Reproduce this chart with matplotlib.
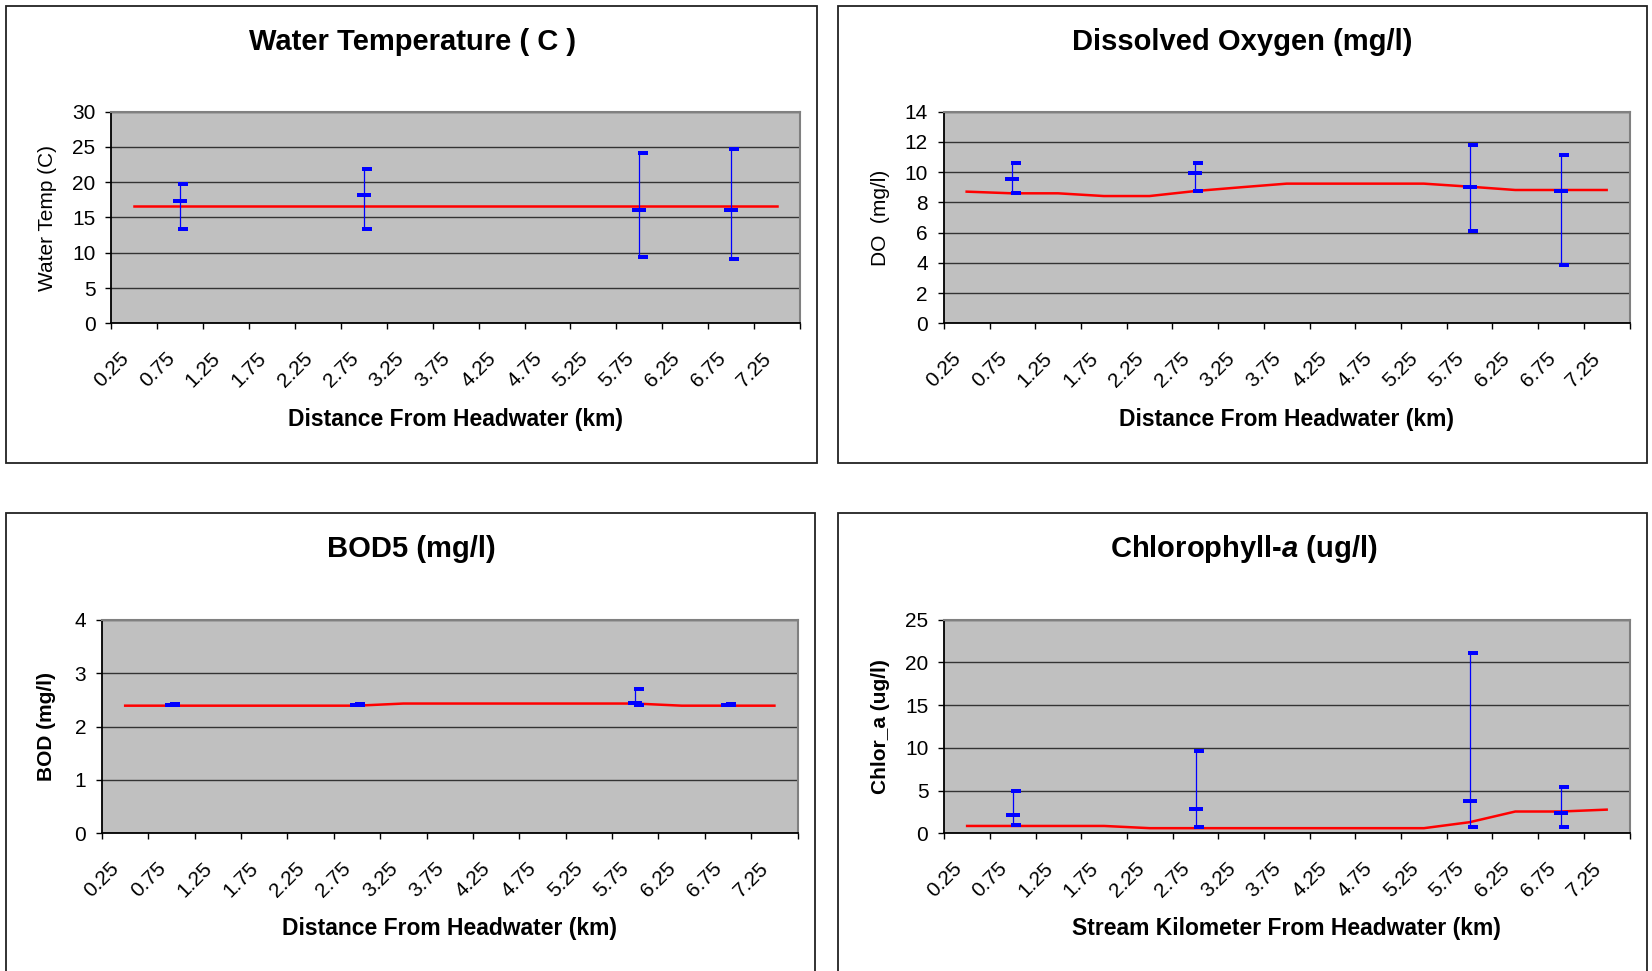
import matplotlib
matplotlib.use("Agg")
import matplotlib.pyplot as plt
import matplotlib.transforms as mtransforms
from matplotlib.patches import Rectangle

plt.rcParams['font.family'] = 'Liberation Sans'
plt.rcParams['mathtext.fontset'] = 'custom'
plt.rcParams['mathtext.it'] = 'Liberation Sans:italic:bold'
plt.rcParams['mathtext.rm'] = 'Liberation Sans:bold'

# model output along the stream (km from headwater)
model_km = [0.5, 1.0, 1.5, 2.0, 2.5, 3.0, 3.5, 4.0, 4.5, 5.0, 5.5, 6.0, 6.5, 7.0, 7.5]
temp_model = [16.7, 16.7, 16.7, 16.7, 16.7, 16.7, 16.7, 16.7, 16.7, 16.7, 16.7, 16.7, 16.7, 16.7, 16.7]
do_model = [8.71, 8.6, 8.6, 8.42, 8.42, 8.75, 9.0, 9.24, 9.24, 9.24, 9.24, 9.04, 8.82, 8.82, 8.82]
bod_model = [2.39, 2.39, 2.39, 2.39, 2.39, 2.39, 2.43, 2.43, 2.43, 2.43, 2.43, 2.43, 2.39, 2.39, 2.39]
chl_model = [0.86, 0.86, 0.86, 0.86, 0.6, 0.6, 0.6, 0.6, 0.6, 0.6, 0.6, 1.3, 2.55, 2.55, 2.77]

# observed stations: mean / min / max
obs_km = [1.0, 3.0, 6.0, 7.0]
temp_mean = [17.4, 18.2, 16.0, 16.0]
temp_min = [13.4, 13.4, 9.4, 9.1]
temp_max = [19.7, 21.9, 24.2, 24.7]
do_mean = [9.57, 9.96, 9.04, 8.77]
do_min = [8.64, 8.77, 6.13, 3.88]
do_max = [10.63, 10.63, 11.82, 11.16]
bod_mean = [2.41, 2.41, 2.44, 2.41]
bod_min = [2.41, 2.41, 2.41, 2.41]
bod_max = [2.42, 2.42, 2.70, 2.42]
chl_mean = [2.18, 2.89, 3.82, 2.42]
chl_min = [1.01, 0.78, 0.78, 0.78]
chl_max = [4.99, 9.67, 21.1, 5.46]

x_labels = ['0.25', '0.75', '1.25', '1.75', '2.25', '2.75', '3.25', '3.75',
            '4.25', '4.75', '5.25', '5.75', '6.25', '6.75', '7.25']

W, H = 1652, 971
fig = plt.figure(figsize=(W / 100, H / 100), dpi=100)


def fx(x):
    return x / W


def fy(y):
    return 1 - y / H


mean_mk = [(-1, -0.3), (1, -0.3), (1, 0.3), (-1, 0.3)]
ext_mk = [(-1, -0.4), (1, -0.4), (1, 0.4), (-1, 0.4)]

panels = [
    dict(box=(6, 6, 817, 463), area=(111.4, 111.7, 800, 323.3), tpos=(413, 41.7),
         title='Water Temperature ( C )', xlabel='Distance From Headwater (km)',
         ylabel='Water Temp (C)', ybold=False, ylx=48, yticks=[0, 5, 10, 15, 20, 25, 30],
         model=temp_model, mean=temp_mean, lo=temp_min, hi=temp_max),
    dict(box=(838, 6, 1647, 463), area=(943.8, 111.7, 1629.5, 323.3), tpos=(1242.6, 41.7),
         title='Dissolved Oxygen (mg/l)', xlabel='Distance From Headwater (km)',
         ylabel='DO  (mg/l)', ybold=False, ylx=880, yticks=[0, 2, 4, 6, 8, 10, 12, 14],
         model=do_model, mean=do_mean, lo=do_min, hi=do_max),
    dict(box=(6, 513, 815, 1000), area=(102, 619.7, 797.6, 833.3), tpos=(411, 549.3),
         title='BOD5 (mg/l)', xlabel='Distance From Headwater (km)',
         ylabel='BOD (mg/l)', ybold=True, ylx=47, yticks=[0, 1, 2, 3, 4],
         model=bod_model, mean=bod_mean, lo=bod_min, hi=bod_max),
    dict(box=(838, 513, 1647, 1000), area=(944.3, 619.7, 1629.5, 833.3), tpos=(1244, 549.3),
         title='Chlorophyll-$\\mathit{a}$ (ug/l)', xlabel='Stream Kilometer From Headwater (km)',
         ylabel='Chlor_a (ug/l)', ybold=True, ylx=880, yticks=[0, 5, 10, 15, 20, 25],
         model=chl_model, mean=chl_mean, lo=chl_min, hi=chl_max),
]

for p in panels:
    bx0, by0, bx1, by1 = p['box']
    fig.patches.append(Rectangle((fx(bx0), fy(by1)), fx(bx1 - bx0), (by1 - by0) / H,
                                 transform=fig.transFigure, fill=False,
                                 ec='#222222', lw=1.3))
    x0, y0, x1, y1 = p['area']
    ax = fig.add_axes([fx(x0), fy(y1), fx(x1 - x0), (y1 - y0) / H])
    ax.set_facecolor('#c0c0c0')

    ax.plot(model_km, p['model'], color='red', lw=1.8, zorder=3)
    ax.vlines(obs_km, p['lo'], p['hi'], color='blue', lw=0.9, zorder=4)
    ext_x = [k + 0.035 for k in obs_km]
    ax.plot(ext_x, p['lo'], ls='none', marker=ext_mk, ms=7.2, mfc='blue', mew=0, zorder=5)
    ax.plot(ext_x, p['hi'], ls='none', marker=ext_mk, ms=7.2, mfc='blue', mew=0, zorder=5)
    ax.plot(obs_km, p['mean'], ls='none', marker=mean_mk, ms=9.8, mfc='blue', mew=0, zorder=5)

    ax.set_xlim(0.25, 7.75)
    ax.set_ylim(p['yticks'][0], p['yticks'][-1])
    ax.set_xticks([float(s) for s in x_labels] + [7.75])
    ax.set_xticklabels(x_labels + [''], rotation=45, ha='center', fontsize=15)
    offset = mtransforms.ScaledTranslation(-6 / 100, 0, fig.dpi_scale_trans)
    for lbl in ax.get_xticklabels():
        lbl.set_transform(lbl.get_transform() + offset)
    ax.set_yticks(p['yticks'])
    ax.set_yticklabels([str(v) for v in p['yticks']], fontsize=15)
    ax.tick_params(axis='x', direction='out', length=4.5, width=1.0, pad=14, color='black')
    ax.tick_params(axis='y', direction='out', length=4.5, width=1.0, pad=7, color='black')
    ax.yaxis.grid(True, color='#333333', lw=1.0)
    ax.set_axisbelow(True)
    for s in ('left', 'bottom'):
        ax.spines[s].set_color('black')
        ax.spines[s].set_linewidth(1.3)
    for s in ('top', 'right'):
        ax.spines[s].set_color('#808080')
        ax.spines[s].set_linewidth(1.5)

    fig.text(fx(p['tpos'][0]), fy(p['tpos'][1]), p['title'], ha='center', va='center',
             fontsize=21, fontweight='bold')
    xl_y = 419 if y0 < 400 else 928.3
    fig.text(fx((x0 + x1) / 2), fy(xl_y), p['xlabel'], ha='center', va='center',
             fontsize=16.5, fontweight='bold')
    fig.text(fx(p['ylx']), fy((y0 + y1) / 2), p['ylabel'], ha='center', va='center',
             rotation=90, fontsize=15, fontweight='bold' if p['ybold'] else 'normal')

fig.savefig('out.png', dpi=100)
